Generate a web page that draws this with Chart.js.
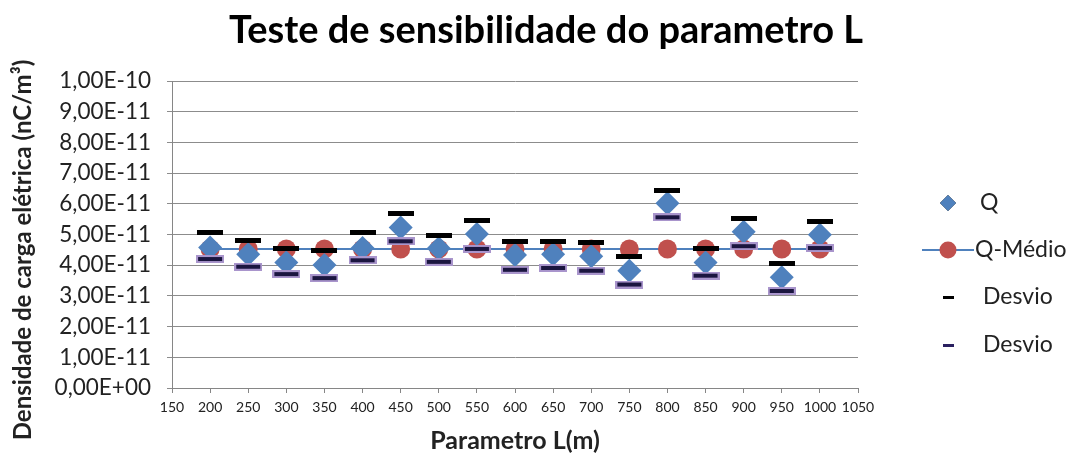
<!DOCTYPE html>
<html>
<head>
<meta charset="utf-8">
<script src="https://cdn.jsdelivr.net/npm/chart.js@4/dist/chart.umd.min.js"></script>
<style>
  html, body { margin: 0; padding: 0; background: #fff; }
  #wrap { width: 1078px; height: 459px; }
</style>
</head>
<body>
<div id="wrap"><canvas id="c" width="1078" height="459"></canvas></div>
<script>
// --- data (values in nC/m3) ---
const L = [200, 250, 300, 350, 400, 450, 500, 550, 600, 650, 700, 750, 800, 850, 900, 950, 1000];
const Q = [4.58e-11, 4.36e-11, 4.09e-11, 4.01e-11, 4.56e-11, 5.23e-11, 4.55e-11, 5.02e-11, 4.33e-11,
           4.36e-11, 4.29e-11, 3.82e-11, 6.02e-11, 4.09e-11, 5.09e-11, 3.61e-11, 4.99e-11];
const Q_MEDIO = [4.53e-11, 4.53e-11, 4.53e-11, 4.53e-11, 4.53e-11, 4.53e-11, 4.53e-11, 4.53e-11, 4.53e-11,
                 4.53e-11, 4.53e-11, 4.53e-11, 4.53e-11, 4.53e-11, 4.53e-11, 4.53e-11, 4.53e-11];
const DESVIO_SUP = [5.07e-11, 4.80e-11, 4.56e-11, 4.47e-11, 5.07e-11, 5.69e-11, 4.98e-11, 5.44e-11, 4.78e-11,
                    4.78e-11, 4.73e-11, 4.28e-11, 6.43e-11, 4.56e-11, 5.53e-11, 4.07e-11, 5.43e-11];
const DESVIO_INF = [4.20e-11, 3.95e-11, 3.71e-11, 3.58e-11, 4.16e-11, 4.78e-11, 4.11e-11, 4.53e-11, 3.85e-11,
                    3.91e-11, 3.82e-11, 3.37e-11, 5.56e-11, 3.66e-11, 4.62e-11, 3.16e-11, 4.56e-11];

const TITLE = 'Teste de sensibilidade do parametro L';
const Y_TITLE = 'Densidade de carga elétrica (nC/m³)';
const FONT = 'Lato, "Open Sans", sans-serif';
const BLUE = '#4F81BD';
const RED = '#C0504D';

const pts = arr => L.map((x, i) => ({ x, y: arr[i] }));

// dash markers (canvas point styles)
function dash(w, h, fill, stroke) {
    const c = document.createElement('canvas');
    c.width = w; c.height = h;
    const g = c.getContext('2d');
    if (stroke) {
        g.fillStyle = stroke;
        g.fillRect(0, 0, w, h);
        g.fillStyle = fill;
        g.fillRect(2, 2, w - 4, h - 4);
    } else {
        g.fillStyle = fill;
        g.fillRect(0, 0, w, h);
    }
    return c;
}
const dashBlack = dash(26, 5, '#000');
const dashPurple = dash(28, 8, '#1b1640', '#a995cc');
const legDashBlack = dash(11, 3, '#000');
const legDashPurple = dash(11, 3, '#2a2060');

// excel-like scientific format: 1,00E-10
function sci(v) {
    const parts = Number(v).toExponential(2).split('e');
    const exp = parts[1][0] + parts[1].slice(1).padStart(2, '0');
    return parts[0].replace('.', ',') + 'E' + exp;
}

// titles + legend, drawn by hand so they sit where the original has them
const decor = {
    id: 'decor',
    afterDraw(chart) {
        const ctx = chart.ctx;
        ctx.save();
        ctx.fillStyle = '#000';
        ctx.textAlign = 'center';
        ctx.textBaseline = 'alphabetic';
        ctx.font = 'bold 38px ' + FONT;
        ctx.fillText(TITLE, 546, 43);

        // rotated y axis title
        ctx.save();
        ctx.translate(23, 250);
        ctx.rotate(-Math.PI / 2);
        ctx.textBaseline = 'middle';
        ctx.fillStyle = '#222';
        ctx.font = 'bold 24px ' + FONT;
        ctx.fillText(Y_TITLE, 0, 0);
        ctx.restore();

        const mx = 948;
        const rows = [203, 250, 297, 345];
        ctx.textAlign = 'left';
        ctx.textBaseline = 'middle';

        Chart.helpers.drawPoint(ctx, { pointStyle: 'rectRot', radius: 8, rotation: 0, borderWidth: 0 }, mx, rows[0]);
        ctx.fillStyle = BLUE; ctx.fill();

        ctx.strokeStyle = BLUE; ctx.lineWidth = 2;
        ctx.beginPath(); ctx.moveTo(922, rows[1]); ctx.lineTo(974, rows[1]); ctx.stroke();
        ctx.beginPath(); ctx.arc(mx, rows[1], 8.5, 0, Math.PI * 2);
        ctx.fillStyle = RED; ctx.fill();

        ctx.drawImage(legDashBlack, mx - 5.5, rows[2] - 1.5);
        ctx.drawImage(legDashPurple, mx - 5.5, rows[3] - 1.5);

        ctx.font = '23px ' + FONT;
        ctx.fillStyle = '#222';
        ctx.fillText('Q', 980, rows[0]);
        ctx.fillText('Q-Médio', 975, rows[1]);
        ctx.fillText('Desvio', 983, rows[2]);
        ctx.fillText('Desvio', 983, rows[3]);
        ctx.restore();
    }
};

new Chart(document.getElementById('c'), {
    type: 'scatter',
    data: {
        datasets: [
            {
                label: 'Q',
                data: pts(Q),
                pointStyle: 'rectRot',
                pointRadius: 12,
                backgroundColor: BLUE,
                borderColor: BLUE,
                borderWidth: 0,
                order: 1
            },
            {
                label: 'Q-Médio',
                type: 'line',
                data: pts(Q_MEDIO),
                showLine: true,
                borderColor: BLUE,
                borderWidth: 2,
                pointStyle: 'circle',
                pointRadius: 9.5,
                pointBackgroundColor: RED,
                pointBorderColor: RED,
                pointBorderWidth: 0,
                fill: false,
                order: 2
            },
            {
                label: 'Desvio',
                data: pts(DESVIO_SUP),
                pointStyle: dashBlack,
                order: 0
            },
            {
                label: 'Desvio',
                data: pts(DESVIO_INF),
                pointStyle: dashPurple,
                order: 0
            }
        ]
    },
    options: {
        responsive: false,
        animation: false,
        layout: { padding: { top: 81, right: 220, bottom: 0, left: 0 } },
        plugins: {
            legend: { display: false },
            tooltip: { enabled: false },
            title: { display: false }
        },
        scales: {
            x: {
                type: 'linear',
                min: 150,
                max: 1050,
                ticks: { stepSize: 50, color: '#222', font: { family: FONT, size: 14 }, padding: 6, maxRotation: 0,
                         callback: v => String(v) },
                grid: { drawOnChartArea: false, drawTicks: true, tickLength: 5, color: '#868686' },
                border: { color: '#868686' },
                title: {
                    display: true,
                    text: 'Parametro L(m)',
                    color: '#222',
                    font: { family: FONT, size: 25, weight: 'bold' },
                    padding: { top: 0, bottom: 3 }
                },
                afterFit: s => { s.height = 71; }
            },
            y: {
                min: 0,
                max: 1e-10,
                ticks: { stepSize: 1e-11, color: '#222', font: { family: FONT, size: 22.5 }, padding: 16, callback: v => sci(v) },
                grid: { color: '#8c8c8c', tickLength: 5 },
                border: { color: '#868686' },
                afterFit: s => { s.width = 172; }
            }
        }
    },
    plugins: [decor]
});
</script>
</body>
</html>
